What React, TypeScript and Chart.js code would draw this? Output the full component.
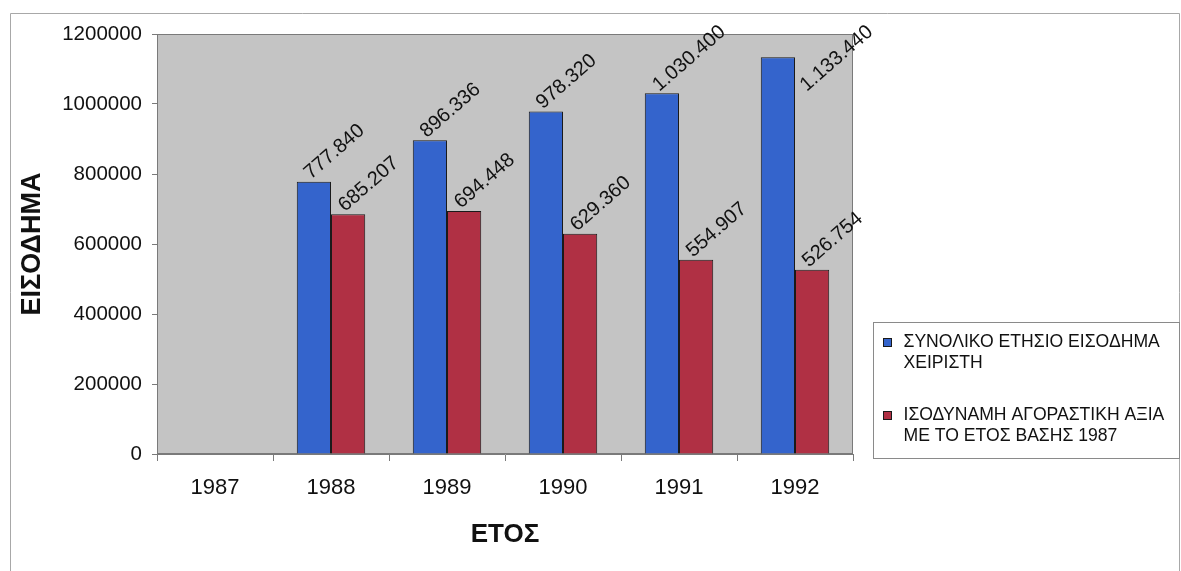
import React, { useEffect, useRef } from 'react';
import { Chart, registerables } from 'chart.js';

Chart.register(...registerables);

const years = ['1987', '1988', '1989', '1990', '1991', '1992'];
const incomeTotal = [null, 777840, 896336, 978320, 1030400, 1133440];
const purchasingPower = [null, 685207, 694448, 629360, 554907, 526754];
const seriesNames = [
  ['ΣΥΝΟΛΙΚΟ ΕΤΗΣΙΟ ΕΙΣΟΔΗΜΑ', 'ΧΕΙΡΙΣΤΗ'],
  ['ΙΣΟΔΥΝΑΜΗ ΑΓΟΡΑΣΤΙΚΗ ΑΞΙΑ', 'ΜΕ ΤΟ ΕΤΟΣ ΒΑΣΗΣ 1987'],
];
const yTicks = [0, 200000, 400000, 600000, 800000, 1000000, 1200000];
const yTitle = 'ΕΙΣΟΔΗΜΑ';
const xTitle = 'ΕΤΟΣ';
const seriesColors = ['#3464cc', '#b03044'];

const FAMILY = '"Liberation Sans", Arial, Helvetica, sans-serif';

const fmt = (n: number) => String(n).replace(/\B(?=(\d{3})+(?!\d))/g, '.');

const backgroundPlugin = {
  id: 'bgPlot',
  beforeDraw(chart: any) {
    const { ctx, width, height, chartArea: a } = chart;
    ctx.save();
    ctx.fillStyle = '#ffffff';
    ctx.fillRect(0, 0, width, height);
    ctx.strokeStyle = '#a8a8a8';
    ctx.lineWidth = 1;
    ctx.beginPath();
    ctx.moveTo(10.5, height);
    ctx.lineTo(10.5, 13.5);
    ctx.lineTo(width - 1.5, 13.5);
    ctx.lineTo(width - 1.5, height);
    ctx.stroke();
    ctx.fillStyle = '#c4c4c4';
    ctx.fillRect(a.left, a.top, a.right - a.left, a.bottom - a.top);
    ctx.strokeStyle = '#7a7a7a';
    ctx.strokeRect(a.left + 0.5, a.top + 0.5, a.right - a.left - 1, a.bottom - a.top - 1);
    ctx.restore();
  },
};

const labelPlugin = {
  id: 'rotLabels',
  afterDatasetsDraw(chart: any) {
    const { ctx } = chart;
    const th = (41 * Math.PI) / 180;
    const limit = 23;
    ctx.save();
    ctx.font = `20px ${FAMILY}`;
    ctx.fillStyle = '#111111';
    ctx.textAlign = 'left';
    ctx.textBaseline = 'alphabetic';
    chart.data.datasets.forEach((ds: any, di: number) => {
      const meta = chart.getDatasetMeta(di);
      meta.data.forEach((bar: any, i: number) => {
        const v = ds.data[i];
        if (v == null) return;
        const { x, y, width } = bar.getProps(['x', 'y', 'width'], true);
        const text = fmt(v);
        const L = ctx.measureText(text).width;
        let x0 = x - width / 2 + 14;
        let y0 = y - 2;
        const top = y0 - L * Math.sin(th) - 14 * Math.cos(th);
        if (top < limit) {
          const k = (limit - top) / Math.cos(th);
          x0 += k * Math.sin(th);
          y0 += k * Math.cos(th);
        }
        ctx.save();
        ctx.translate(x0, y0);
        ctx.rotate(-th);
        ctx.fillText(text, 0, 0);
        ctx.restore();
      });
    });
    ctx.restore();
  },
};

const legendPlugin = {
  id: 'boxLegend',
  afterDraw(chart: any) {
    const { ctx, width, chartArea: a } = chart;
    const bx = a.right + 20.5;
    const by = 322.5;
    const bw = width - 1.5 - bx;
    const bh = 136;
    ctx.save();
    ctx.fillStyle = '#ffffff';
    ctx.fillRect(bx, by, bw, bh);
    ctx.strokeStyle = '#8a8a8a';
    ctx.lineWidth = 1;
    ctx.strokeRect(bx, by, bw, bh);
    ctx.font = `17.6px ${FAMILY}`;
    ctx.textAlign = 'left';
    ctx.textBaseline = 'middle';
    const starts = [by + 20, by + 93];
    seriesNames.forEach((lines, si) => {
      const y = starts[si];
      ctx.fillStyle = seriesColors[si];
      ctx.fillRect(bx + 10, y - 4, 8, 8);
      ctx.strokeStyle = '#1a1a1a';
      ctx.strokeRect(bx + 10, y - 4, 8, 8);
      ctx.fillStyle = '#111111';
      lines.forEach((ln, li) => {
        ctx.fillText(ln, bx + 30, y + li * 21);
      });
    });
    ctx.restore();
  },
};

export default function App() {
  const ref = useRef<HTMLCanvasElement | null>(null);

  useEffect(() => {
    document.body.style.margin = '0';
    const canvas = ref.current;
    if (!canvas) return;
    const chart = new Chart(canvas, {
      type: 'bar',
      data: {
        labels: years,
        datasets: [
          {
            label: seriesNames[0].join(' '),
            data: incomeTotal,
            backgroundColor: seriesColors[0],
            borderColor: '#1a1a1a',
            borderWidth: 1,
            categoryPercentage: 0.59,
            barPercentage: 1.0,
          },
          {
            label: seriesNames[1].join(' '),
            data: purchasingPower,
            backgroundColor: seriesColors[1],
            borderColor: '#1a1a1a',
            borderWidth: 1,
            categoryPercentage: 0.59,
            barPercentage: 1.0,
          },
        ],
      },
      options: {
        responsive: false,
        animation: false,
        devicePixelRatio: 1,
        layout: { padding: { top: 34, right: 328, left: 0, bottom: 0 } },
        plugins: {
          legend: { display: false },
          title: { display: false },
          tooltip: { enabled: false },
        },
        scales: {
          x: {
            grid: {
              display: true,
              drawOnChartArea: false,
              drawTicks: true,
              tickLength: 7,
              color: '#7a7a7a',
              offset: true,
            },
            border: { display: true, color: '#7a7a7a' },
            ticks: { font: { size: 22, family: FAMILY }, color: '#111111', padding: 14 },
            title: {
              display: true,
              text: xTitle,
              font: { size: 26, weight: 'bold', family: FAMILY },
              color: '#111111',
              padding: 21,
            },
            afterFit(scale: any) {
              scale.height = 117;
            },
          },
          y: {
            min: 0,
            max: 1200000,
            afterBuildTicks(scale: any) {
              scale.ticks = yTicks.map((v) => ({ value: v }));
            },
            grid: {
              drawOnChartArea: false,
              drawTicks: true,
              tickLength: 5,
              color: '#7a7a7a',
            },
            border: { display: true, color: '#7a7a7a' },
            ticks: {
              font: { size: 20.5, family: FAMILY },
              color: '#111111',
              padding: 10,
              callback: (v: any) => String(v),
            },
            title: {
              display: true,
              text: yTitle,
              font: { size: 27, weight: 'bold', family: FAMILY },
              color: '#111111',
              padding: 16,
            },
            afterFit(scale: any) {
              scale.width = 157;
            },
          },
        },
      },
      plugins: [backgroundPlugin, labelPlugin, legendPlugin],
    });
    return () => chart.destroy();
  }, []);

  return (
    <div style={{ width: 1181, height: 571 }}>
      <canvas ref={ref} width={1181} height={571} />
    </div>
  );
}
